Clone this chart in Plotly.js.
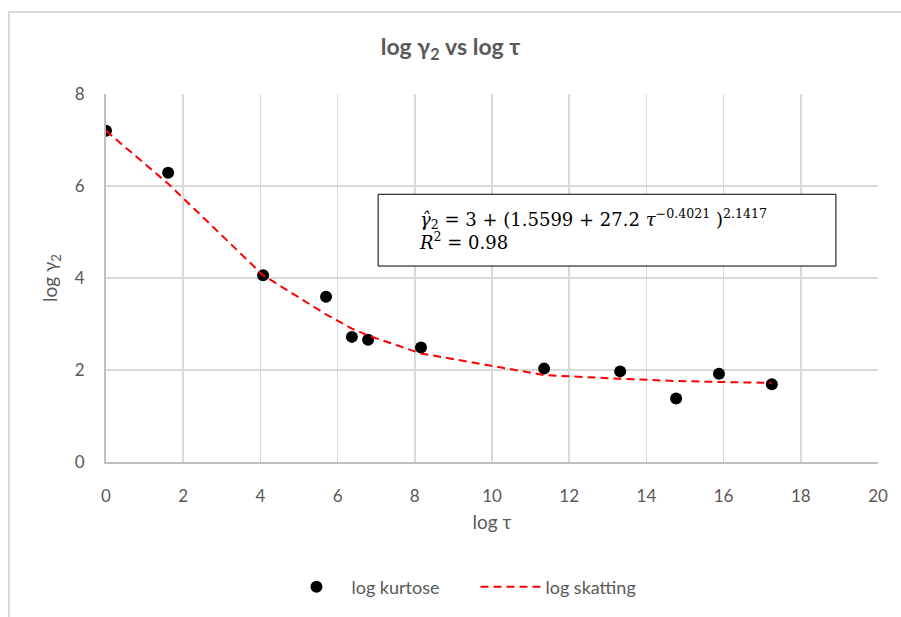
<!DOCTYPE html>
<html>
<head>
<meta charset="utf-8">
<script src="https://cdn.plot.ly/plotly-3.0.1.min.js"></script>
<style>
  html, body { margin: 0; padding: 0; background: #ffffff; }
  #frame { position: absolute; left: 8px; top: 11px; width: 900px; height: 610px;
           border-left: 2px solid #d9d9d9; border-top: 2px solid #d9d9d9; }
  #chart { position: absolute; left: 0; top: 0; width: 901px; height: 617px; }
</style>
</head>
<body>
<div id="frame"></div>
<div id="chart"></div>
<script>
// Data
const logTau      = [0, 1.61, 4.07, 5.70, 6.37, 6.79, 8.16, 11.35, 13.32, 14.77, 15.88, 17.25];
const logKurtose  = [7.2, 6.29, 4.06, 3.59, 2.72, 2.66, 2.49, 2.03, 1.97, 1.38, 1.92, 1.69];
const logSkatting = [7.2, 6.05, 4.06, 3.21, 2.90, 2.75, 2.36, 1.89, 1.81, 1.76, 1.74, 1.72];
const xTicks = [0, 2, 4, 6, 8, 10, 12, 14, 16, 18, 20];
const yTicks = [0, 2, 4, 6, 8];

const fontFam = "Lato, 'Open Sans', 'Liberation Sans', sans-serif";
const grey = '#595959';

const traces = [
  {
    x: logTau, y: logKurtose, type: 'scatter', mode: 'markers', name: 'log kurtose',
    marker: { color: '#000000', size: 12 }
  },
  {
    x: logTau, y: logSkatting, type: 'scatter', mode: 'lines', name: 'log skatting',
    line: { color: '#ff0000', width: 2, dash: '8px,5px' }
  }
];

const layout = {
  width: 901, height: 617,
  paper_bgcolor: 'rgba(0,0,0,0)', plot_bgcolor: '#ffffff',
  margin: { l: 106, r: 23, t: 94, b: 153 },
  font: { family: fontFam, color: grey, size: 16 },
  title: {
    text: '<b>log γ<sub>2</sub> vs log τ</b>',
    font: { family: fontFam, size: 23, color: grey },
    x: 0.5, xanchor: 'center', xref: 'container',
    y: 1 - 47 / 617, yanchor: 'middle', yref: 'container'
  },
  xaxis: {
    range: [0, 20], tickvals: xTicks, ticktext: xTicks.map(String),
    showgrid: true, gridcolor: '#d9d9d9', gridwidth: 1.5,
    zeroline: false, showline: true, linecolor: '#bfbfbf', linewidth: 2,
    ticks: '', ticklabelstandoff: 18,
    tickfont: { family: fontFam, size: 17, color: grey },
    title: { text: 'log τ', font: { family: fontFam, size: 19, color: grey }, standoff: 10 }
  },
  yaxis: {
    range: [0, 8], tickvals: yTicks, ticktext: yTicks.map(String),
    showgrid: true, gridcolor: '#d9d9d9', gridwidth: 1.5,
    zeroline: false, showline: true, linecolor: '#bfbfbf', linewidth: 2,
    ticks: '', ticklabelstandoff: 16,
    tickfont: { family: fontFam, size: 17, color: grey },
    title: { text: 'log γ<sub>2</sub>', font: { family: fontFam, size: 19, color: grey }, standoff: 12 }
  },
  showlegend: true,
  legend: {
    orientation: 'h', x: 0.4786, xanchor: 'center', y: -0.34, yanchor: 'middle',
    font: { family: fontFam, size: 18, color: grey },
    itemwidth: 60, entrywidth: 119, entrywidthmode: 'pixels', tracegroupgap: 0
  },
  shapes: [
    { type: 'rect', xref: 'x', yref: 'y', x0: 7.05, x1: 18.91, y0: 4.26, y1: 5.82,
      line: { color: '#000000', width: 1 }, fillcolor: '#ffffff', layer: 'above' }
  ],
  annotations: [
    {
      xref: 'x', yref: 'y', x: 8.05, y: 5.05, xanchor: 'left', yanchor: 'middle', align: 'left',
      showarrow: false,
      text: '<i>γ̂</i><sub>2</sub> = 3 + (1.5599 + 27.2 <i>τ</i><sup>−0.4021</sup> )<sup>2.1417</sup><br><i>R</i><sup>2</sup> = 0.98',
      font: { family: "'DejaVu Serif', 'Liberation Serif', serif", size: 18, color: '#000000' }
    }
  ]
};

Plotly.newPlot('chart', traces, layout, { displayModeBar: false, staticPlot: true });
</script>
</body>
</html>
